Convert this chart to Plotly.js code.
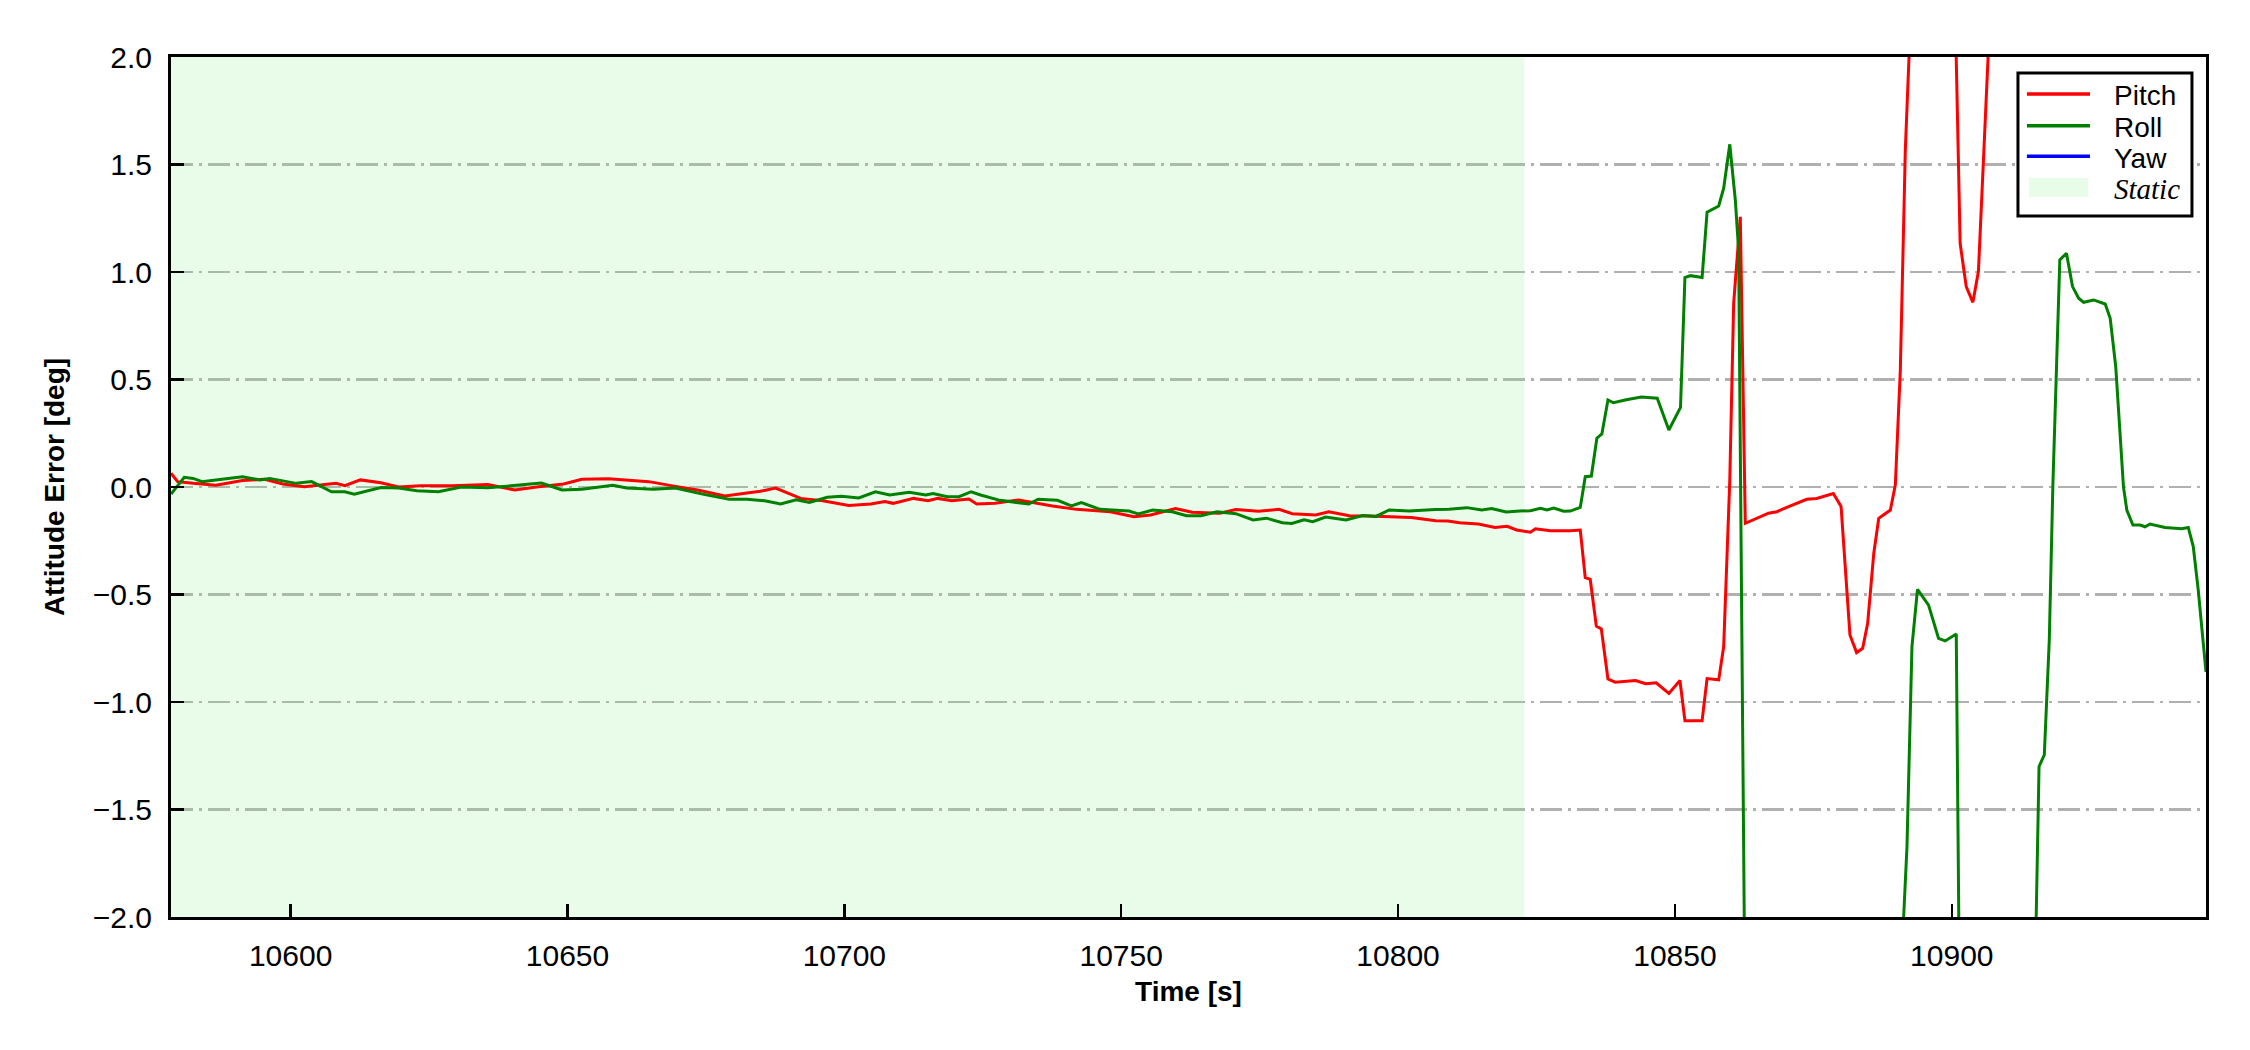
<!DOCTYPE html>
<html>
<head>
<meta charset="utf-8">
<script src="https://cdn.plot.ly/plotly-3.0.1.min.js"></script>
<style>
  html, body { margin: 0; padding: 0; background: #ffffff; }
  #chart { width: 2250px; height: 1050px; }
</style>
</head>
<body>
<div id="chart"></div>
<script>
// ---- data ----
const xRange = [10578.4, 10945.9];
const yRange = [-2, 2];

const staticStart = 10578.4;
const staticEnd = 10822.8;

const pitchTime = [
  10578.4, 10579.6, 10582.4, 10586.5, 10591.3, 10595.3, 10598.6, 10602.5, 10608.2, 10609.8,
  10612.6, 10616.3, 10619.5, 10623.5, 10629.2, 10635.6, 10640.5, 10644.4, 10649.3, 10652.6,
  10657.4, 10661.4, 10664.7, 10669.5, 10673.5, 10678.4, 10681.6, 10684.8, 10687.6, 10692.1,
  10696.1, 10700.8, 10704.8, 10707.3, 10708.8, 10712.5, 10715.1, 10716.9, 10719.4, 10722.5,
  10723.9, 10727.2, 10731.5, 10735.0, 10737.6, 10741.9, 10748.0, 10752.3, 10755.3, 10759.8,
  10762.8, 10767.8, 10770.7, 10774.8, 10778.5, 10780.9, 10785.1, 10787.5, 10791.2, 10794.8,
  10799.6, 10802.4, 10806.8, 10809.0, 10811.1, 10814.5, 10817.5, 10819.7, 10821.4, 10823.9,
  10824.8, 10827.5, 10831.1, 10832.9, 10833.8, 10834.7, 10835.8, 10836.7, 10837.9, 10839.2,
  10842.9, 10844.7, 10846.6, 10848.9, 10850.9, 10851.8, 10854.9, 10855.8, 10857.9, 10858.8,
  10859.9, 10860.6, 10861.8, 10862.7, 10866.9, 10868.4, 10870.2, 10871.7, 10873.8, 10875.6,
  10878.6, 10880.0, 10880.7, 10881.6, 10882.8, 10883.9, 10884.8, 10885.9, 10886.8, 10888.9,
  10889.8, 10890.7, 10891.6, 10893.2, 10900.3, 10901.5, 10902.6, 10903.8, 10904.8, 10905.7,
  10907.6, 10945.9
];
const pitchValue = [
  0.064, 0.025, 0.017, 0.008, 0.030, 0.036, 0.014, 0.001, 0.017, 0.006,
  0.033, 0.020, 0.000, 0.006, 0.006, 0.012, -0.014, 0.000, 0.014, 0.036,
  0.038, 0.030, 0.025, 0.003, -0.014, -0.042, -0.030, -0.020, -0.005, -0.053,
  -0.064, -0.086, -0.079, -0.068, -0.076, -0.053, -0.064, -0.053, -0.064, -0.056,
  -0.079, -0.076, -0.060, -0.076, -0.088, -0.104, -0.115, -0.138, -0.130, -0.100,
  -0.117, -0.122, -0.105, -0.113, -0.104, -0.124, -0.130, -0.115, -0.134, -0.135,
  -0.138, -0.142, -0.157, -0.158, -0.166, -0.172, -0.188, -0.183, -0.200, -0.210,
  -0.194, -0.203, -0.203, -0.200, -0.422, -0.430, -0.647, -0.660, -0.893, -0.908,
  -0.900, -0.915, -0.911, -0.960, -0.900, -1.087, -1.087, -0.891, -0.897, -0.742,
  0.030, 0.854, 1.257, -0.169, -0.122, -0.115, -0.095, -0.079, -0.057, -0.053,
  -0.030, -0.091, -0.340, -0.688, -0.770, -0.750, -0.634, -0.309, -0.146, -0.107,
  0.010, 0.544, 1.568, 2.600, 2.600, 1.133, 0.932, 0.859, 1.002, 1.567,
  2.600, 2.600
];

const rollTime = [
  10578.4, 10580.8, 10582.4, 10584.0, 10586.5, 10591.3, 10594.5, 10596.2, 10601.0, 10603.8,
  10607.4, 10609.8, 10611.5, 10613.9, 10616.3, 10619.5, 10622.8, 10626.7, 10630.8, 10635.6,
  10640.5, 10645.3, 10649.0, 10652.6, 10658.2, 10660.7, 10665.5, 10669.5, 10674.4, 10679.2,
  10682.4, 10685.6, 10688.5, 10691.3, 10693.7, 10696.9, 10699.5, 10702.6, 10705.6, 10708.2,
  10711.7, 10714.7, 10716.0, 10718.6, 10720.7, 10722.9, 10724.6, 10728.1, 10733.3, 10735.0,
  10738.5, 10741.0, 10742.8, 10746.2, 10751.4, 10753.1, 10755.7, 10759.2, 10761.8, 10764.4,
  10767.3, 10770.7, 10773.8, 10776.2, 10779.1, 10780.8, 10783.0, 10784.6, 10786.9, 10790.6,
  10793.6, 10796.0, 10798.4, 10802.0, 10806.7, 10809.2, 10812.4, 10815.1, 10816.9, 10819.5,
  10822.0, 10823.9, 10825.7, 10826.9, 10828.1, 10829.9, 10831.1, 10832.9, 10833.8, 10834.9,
  10835.9, 10836.8, 10837.9, 10838.9, 10841.0, 10843.9, 10846.8, 10848.9, 10851.0, 10851.8,
  10852.8, 10854.9, 10855.8, 10857.9, 10858.8, 10859.9, 10860.9, 10861.5, 10863.0, 10890.2,
  10891.9, 10892.8, 10893.8, 10895.8, 10897.6, 10898.8, 10900.8, 10901.6, 10914.5, 10915.75,
  10916.7, 10917.6, 10918.25, 10919.5, 10920.7, 10921.8, 10922.9, 10923.8, 10925.6, 10927.7,
  10928.6, 10929.6, 10931.0, 10931.6, 10932.7, 10934.0, 10934.9, 10935.8, 10938.5, 10941.5,
  10942.7, 10943.6, 10944.5, 10945.9
];
const rollValue = [
  -0.033, 0.045, 0.040, 0.025, 0.033, 0.048, 0.033, 0.040, 0.017, 0.025,
  -0.022, -0.022, -0.033, -0.017, -0.002, -0.005, -0.017, -0.022, 0.000, -0.004,
  0.006, 0.018, -0.014, -0.010, 0.008, -0.005, -0.010, -0.005, -0.033, -0.057,
  -0.057, -0.064, -0.079, -0.060, -0.072, -0.048, -0.043, -0.051, -0.022, -0.037,
  -0.024, -0.037, -0.030, -0.045, -0.045, -0.022, -0.037, -0.062, -0.079, -0.057,
  -0.062, -0.088, -0.072, -0.104, -0.112, -0.125, -0.107, -0.115, -0.134, -0.134,
  -0.115, -0.124, -0.153, -0.145, -0.166, -0.170, -0.153, -0.161, -0.140, -0.153,
  -0.133, -0.137, -0.107, -0.112, -0.105, -0.104, -0.096, -0.107, -0.100, -0.116,
  -0.112, -0.110, -0.099, -0.107, -0.098, -0.113, -0.112, -0.095, 0.048, 0.051,
  0.227, 0.247, 0.405, 0.392, 0.405, 0.419, 0.413, 0.265, 0.370, 0.974,
  0.983, 0.974, 1.278, 1.307, 1.390, 1.594, 1.335, 1.100, -3.500, -2.600,
  -1.673, -0.742, -0.476, -0.549, -0.704, -0.716, -0.684, -3.000, -3.000, -1.300,
  -1.246, -0.712, 0.010, 1.056, 1.087, 0.932, 0.878, 0.859, 0.870, 0.851,
  0.785, 0.560, 0.000, -0.107, -0.177, -0.177, -0.185, -0.172, -0.188, -0.194,
  -0.188, -0.277, -0.480, -0.860
];

// Yaw appears in the legend only; no yaw values fall inside the plotted range
const yawTime = [null];
const yawValue = [null];

const seriesNames = ["Pitch", "Roll", "Yaw"];
const seriesColors = ["#ff0000", "#008000", "#0000ff"];
const staticLabel = "Static";
const staticColor = "rgba(144,238,144,0.2)";

// ---- traces ----
const traces = [
  {
    type: "scatter", mode: "lines",
    x: [staticStart, staticStart, staticEnd, staticEnd],
    y: [yRange[0], yRange[1], yRange[1], yRange[0]],
    fill: "toself",
    fillcolor: staticColor,
    line: { width: 0, color: "rgba(0,0,0,0)" },
    name: staticLabel,
    hoverinfo: "skip"
  },
  {
    type: "scatter", mode: "lines",
    x: pitchTime, y: pitchValue,
    name: seriesNames[0],
    line: { color: seriesColors[0], width: 3 }
  },
  {
    type: "scatter", mode: "lines",
    x: rollTime, y: rollValue,
    name: seriesNames[1],
    line: { color: seriesColors[1], width: 3 }
  },
  {
    type: "scatter", mode: "lines",
    x: yawTime, y: yawValue,
    name: seriesNames[2],
    line: { color: seriesColors[2], width: 3 }
  }
];

// ---- legend box (matplotlib style), placed in paper coordinates ----
const legBox = { x0: 0.9076, x1: 0.9931, y0: 0.8151, y1: 0.9814 };
const legRows = [0.9570, 0.9202, 0.8845, 0.8483];
const legKeyX = [0.9120, 0.9430];
const legTextX = 0.9537;

const shapes = [
  {
    type: "rect", xref: "paper", yref: "paper", layer: "above",
    x0: legBox.x0, x1: legBox.x1, y0: legBox.y0, y1: legBox.y1,
    fillcolor: "#ffffff", line: { color: "#000000", width: 3 }
  }
];
seriesNames.forEach(function (nm, i) {
  shapes.push({
    type: "line", xref: "paper", yref: "paper", layer: "above",
    x0: legKeyX[0], x1: legKeyX[1], y0: legRows[i], y1: legRows[i],
    line: { color: seriesColors[i], width: 3.5 }
  });
});
shapes.push({
  type: "rect", xref: "paper", yref: "paper", layer: "above",
  x0: legKeyX[0] + 0.001, x1: legKeyX[1] - 0.001,
  y0: legRows[3] - 0.011, y1: legRows[3] + 0.011,
  fillcolor: "rgb(232,253,232)", line: { width: 0 }
});

const legFont = { family: "Liberation Sans, Arial, sans-serif", size: 28, color: "#000000" };
const annotations = seriesNames.map(function (nm, i) {
  return {
    xref: "paper", yref: "paper", x: legTextX, y: legRows[i] - 0.002,
    xanchor: "left", yanchor: "middle", showarrow: false,
    text: nm, font: legFont
  };
});
annotations.push({
  xref: "paper", yref: "paper", x: legTextX, y: legRows[3] - 0.002,
  xanchor: "left", yanchor: "middle", showarrow: false,
  text: "<i>" + staticLabel + "</i>",
  font: { family: "Liberation Serif, Times New Roman, serif", size: 29, color: "#000000" }
});

const tickFont = { family: "Liberation Sans, Arial, sans-serif", size: 30, color: "#000000" };
const titleFont = { family: "Liberation Sans, Arial, sans-serif", size: 28, color: "#000000", weight: "bold" };

const layout = {
  width: 2250,
  height: 1050,
  paper_bgcolor: "#ffffff",
  plot_bgcolor: "#ffffff",
  margin: { l: 171, r: 44, t: 57, b: 133, pad: 0 },
  showlegend: false,
  shapes: shapes,
  annotations: annotations,
  xaxis: {
    range: xRange,
    tick0: 10600, dtick: 50,
    tickformat: "d",
    ticks: "inside", ticklen: 13, tickwidth: 2.5, tickcolor: "#000000",
    showline: true, linecolor: "#000000", linewidth: 3, mirror: true,
    showgrid: false, zeroline: false,
    tickfont: tickFont,
    ticklabelstandoff: 10,
    title: { text: "Time [s]", font: titleFont, standoff: 11 },
    automargin: false
  },
  yaxis: {
    range: yRange,
    tick0: -2, dtick: 0.5,
    tickformat: ".1f",
    ticks: "inside", ticklen: 13, tickwidth: 2.5, tickcolor: "#000000",
    showline: true, linecolor: "#000000", linewidth: 3, mirror: true,
    showgrid: true, gridcolor: "#b0b0b0", gridwidth: 2.2,
    griddash: "22px,6px,3px,6px",
    zeroline: false,
    tickfont: tickFont,
    ticklabelstandoff: 10,
    title: { text: "Attitude Error [deg]", font: titleFont, standoff: 20 },
    automargin: false
  }
};

Plotly.newPlot("chart", traces, layout, { displayModeBar: false, staticPlot: true });
</script>
</body>
</html>
